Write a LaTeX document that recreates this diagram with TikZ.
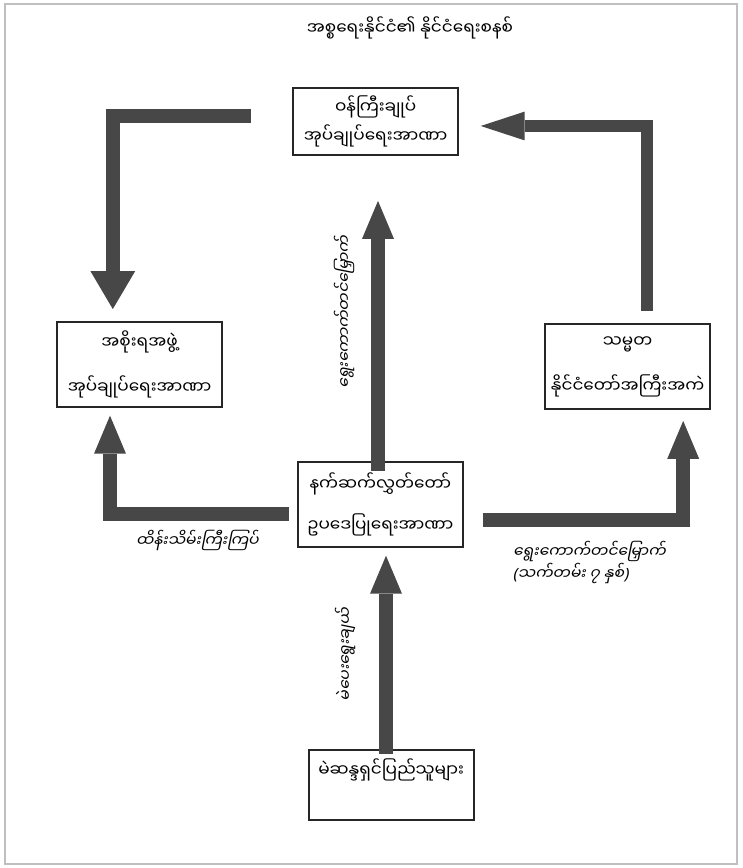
\documentclass[tikz,border=0pt]{standalone}
\usepackage{fontspec}
\newfontfamily\mmfont[Script=Myanmar]{Noto Sans Myanmar UI}
\newfontfamily\mmslant[Script=Myanmar,FakeSlant=0.2]{Noto Sans Myanmar UI}
\newfontfamily\latslant[FakeSlant=0.2]{Noto Sans}
\usetikzlibrary{arrows.meta, positioning}
\begin{document}
\begin{tikzpicture}[
        box/.style={rectangle, draw=black!85, line width=1.3pt, fill=white, minimum width=4.13cm, minimum height=2.12cm, align=center, font=\mmfont\fontsize{12}{21}\selectfont},
        flow/.style={line width=0.34cm, draw=black!72, line join=miter, -{Triangle[width=0.8cm, length=0.95cm, line width=0pt]}},
        tag/.style={font=\mmslant\fontsize{11}{16}\selectfont}
    ]
        \useasboundingbox (0,0) rectangle (18.55,21.7);
        \draw[gray!50, line width=1pt] (0.12,0.1) rectangle (18.42,21.6);

        % Title
        \node[font=\mmfont\fontsize{12}{14}\selectfont] (title) at (10.25,21) {အစ္စရေးနိုင်ငံ၏ နိုင်ငံရေးစနစ်};

        % Boxes
        \node[box, minimum height=1.68cm] (ministers) at (9.39,18.66) {ဝန်ကြီးချုပ်\\အုပ်ချုပ်ရေးအာဏာ};
        \node[box] (govt) at (3.49,12.59) {အစိုးရအဖွဲ့\\[0.38cm]အုပ်ချုပ်ရေးအာဏာ};
        \node[box] (president) at (15.69,12.53) {သမ္မတ\\[0.38cm]နိုင်ငံတော်အကြီးအကဲ};
        \node[box] (knesset) at (9.51,9.09) {နက်ဆက်လွှတ်တော်\\[0.3cm]ဥပဒေပြုရေးအာဏာ};
        \node[box, minimum height=1.75cm] (voters) at (9.78,2.075) {};
        \node[box, draw=none, fill=none, minimum height=0pt, below=0.1cm of voters.north] (voterstext) {မဲဆန္ဒရှင်ပြည်သူများ};

        % Arrows
        \draw[flow, -{Triangle[width=1.12cm, length=0.95cm, line width=0pt]}, shorten <=1.03cm, shorten >=0.3cm] ([yshift=0.14cm]ministers.west) -| ([xshift=-0.67cm]govt.north);
        \draw[flow, shorten <=-0.25cm, shorten >=1.12cm] ([xshift=-0.06cm]knesset.north) -- ([xshift=-0.06cm]knesset.north |- ministers.south);
        \draw[flow, shorten <=0.2cm, shorten >=0.2cm] ([yshift=-0.24cm]knesset.west) -| ([xshift=-0.74cm]govt.south);
        \draw[flow, shorten <=0.47cm, shorten >=0.27cm] ([yshift=-0.39cm]knesset.east) -| ([xshift=1.39cm]president.south);
        \draw[flow, line width=0.3cm, -{Triangle[width=0.72cm, length=1.1cm, line width=0pt]}, shorten <=0.32cm, shorten >=0.54cm] ([xshift=0.49cm]president.north) |- ([yshift=-0.11cm]ministers.east);
        \draw[flow, shorten <=-0.12cm, shorten >=0.2cm] ([xshift=-0.13cm]voters.north) -- ([xshift=-0.13cm]voters.north |- knesset.south);

        % Labels
        \node[tag, rotate=90] (electtop) at (8.6,13.9) {ရွေးကောက်တင်မြှောက်};
        \node[tag, rotate=90] (vote) at (8.63,5.33) {မဲပေးရွေးချယ်};
        \node[tag] (control) at (4.93,8.2) {ထိန်းသိမ်းကြီးကြပ်};
        \node[tag, anchor=west, align=left] (electright) at (12.7,7.64) {ရွေးကောက်တင်မြှောက်\\{\latslant(}သက်တမ်း ၇ နှစ်{\latslant)}};
    \end{tikzpicture}
\end{document}
